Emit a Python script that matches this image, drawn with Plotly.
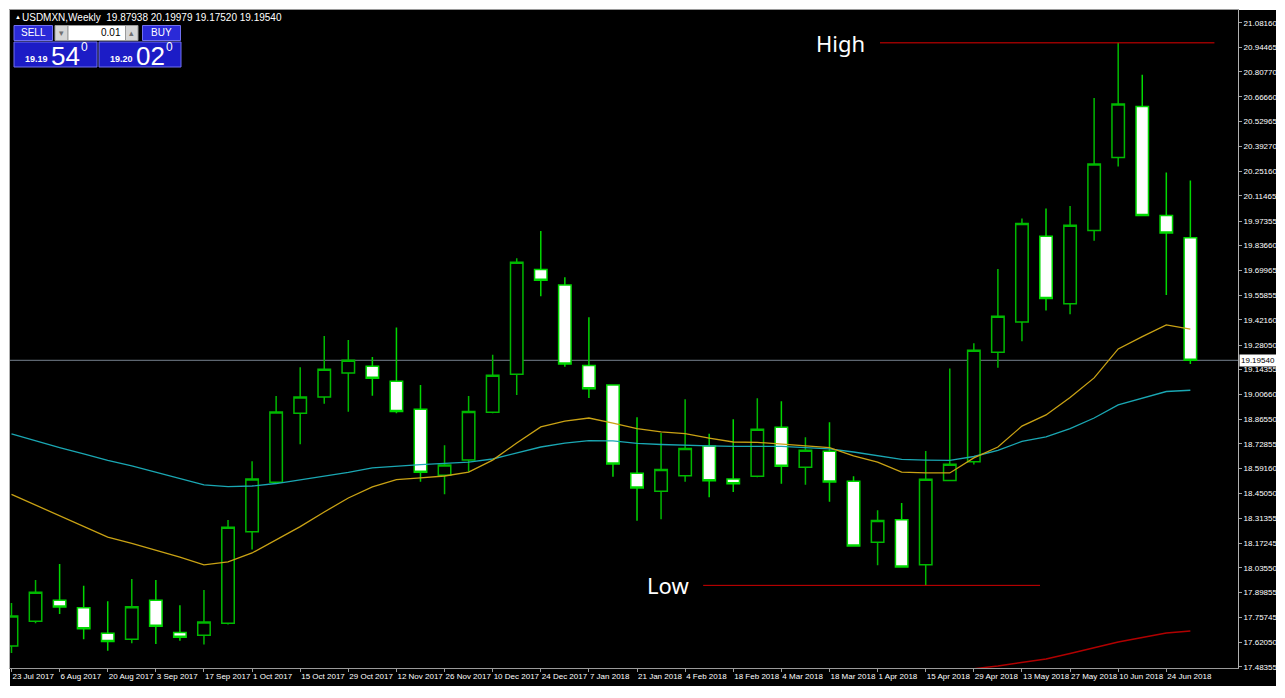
import pandas as pd
import plotly.graph_objects as go

# ---------------- data ----------------
symbol = "USDMXN"
timeframe = "Weekly"
first_week = "2017-07-23"

open_ = [17.599, 17.737, 17.855, 17.813, 17.670, 17.637, 17.855, 17.674, 17.659, 17.726,
         18.238, 18.514, 18.899, 18.990, 19.124, 19.162, 19.078, 18.922, 18.553, 18.638,
         18.905, 19.117, 19.702, 19.616, 19.167, 19.057, 18.564, 18.464, 18.551, 18.717,
         18.532, 18.547, 18.821, 18.598, 18.687, 18.519, 18.179, 18.305, 18.053, 18.524,
         18.629, 19.240, 19.409, 19.888, 19.512, 19.920, 20.328, 20.613, 20.004, 19.87938]
high = [17.839, 17.968, 18.057, 17.936, 17.849, 17.974, 17.968, 17.827, 17.912, 18.303,
        18.631, 18.996, 19.156, 19.331, 19.309, 19.214, 19.378, 19.057, 18.721, 18.996,
        19.227, 19.765, 19.918, 19.659, 19.436, 19.060, 18.877, 18.789, 18.978, 18.785,
        18.866, 18.983, 18.966, 18.765, 18.849, 18.547, 18.357, 18.398, 18.689, 19.149,
        19.290, 19.706, 19.988, 20.043, 20.057, 20.661, 20.969, 20.791, 20.244, 20.19979]
low = [17.560, 17.726, 17.778, 17.637, 17.573, 17.614, 17.610, 17.629, 17.607, 17.720,
       18.139, 18.505, 18.726, 18.953, 18.908, 18.998, 18.899, 18.517, 18.447, 18.573,
       18.900, 19.002, 19.553, 19.160, 18.985, 18.545, 18.299, 18.307, 18.517, 18.430,
       18.460, 18.542, 18.506, 18.500, 18.405, 18.155, 18.050, 18.040, 17.938, 18.520,
       18.613, 19.154, 19.302, 19.473, 19.452, 19.863, 20.278, 20.000, 19.560, 19.17520]
close = [17.767, 17.899, 17.817, 17.696, 17.625, 17.819, 17.709, 17.648, 17.733, 18.262,
         18.532, 18.907, 18.990, 19.145, 19.195, 19.095, 18.910, 18.570, 18.610, 18.910,
         19.112, 19.743, 19.642, 19.175, 19.037, 18.616, 18.482, 18.586, 18.702, 18.523,
         18.506, 18.810, 18.603, 18.693, 18.516, 18.158, 18.301, 18.041, 18.531, 18.615,
         19.252, 19.441, 19.959, 19.541, 19.950, 20.292, 20.627, 20.004, 19.906, 19.19540]

ma_gold = [18.446, 18.387, 18.328, 18.270, 18.208, 18.172, 18.133, 18.096, 18.052, 18.069,
           18.119, 18.191, 18.266, 18.348, 18.426, 18.488, 18.529, 18.538, 18.549, 18.571,
           18.638, 18.733, 18.823, 18.856, 18.873, 18.845, 18.814, 18.795, 18.786, 18.761,
           18.739, 18.737, 18.728, 18.719, 18.708, 18.661, 18.627, 18.571, 18.566, 18.566,
           18.650, 18.711, 18.828, 18.890, 18.988, 19.097, 19.259, 19.328, 19.393, 19.370]
ma_cyan = [18.784, 18.745, 18.708, 18.672, 18.636, 18.605, 18.571, 18.536, 18.499, 18.490,
           18.493, 18.507, 18.527, 18.549, 18.569, 18.594, 18.605, 18.613, 18.619, 18.627,
           18.644, 18.678, 18.711, 18.733, 18.747, 18.745, 18.731, 18.725, 18.719, 18.717,
           18.714, 18.714, 18.714, 18.708, 18.700, 18.683, 18.664, 18.642, 18.638, 18.636,
           18.658, 18.692, 18.742, 18.767, 18.814, 18.873, 18.946, 18.982, 19.021, 19.028]
ma_red_start = 36
ma_red = [17.392, 17.409, 17.432, 17.454, 17.472, 17.488, 17.507, 17.527, 17.557, 17.588,
          17.622, 17.647, 17.672, 17.683]

y_tick_labels = ["21.08160", "20.94465", "20.80770", "20.66660", "20.52965", "20.39270",
                 "20.25160", "20.11465", "19.97355", "19.83660", "19.69965", "19.55855",
                 "19.42160", "19.28050", "19.14355", "19.00660", "18.86550", "18.72855",
                 "18.59160", "18.45050", "18.31355", "18.17245", "18.03550", "17.89855",
                 "17.75745", "17.62050", "17.48355"]
x_tick_labels = ["23 Jul 2017", "6 Aug 2017", "20 Aug 2017", "3 Sep 2017", "17 Sep 2017",
                 "1 Oct 2017", "15 Oct 2017", "29 Oct 2017", "12 Nov 2017", "26 Nov 2017",
                 "10 Dec 2017", "24 Dec 2017", "7 Jan 2018", "21 Jan 2018", "4 Feb 2018",
                 "18 Feb 2018", "4 Mar 2018", "18 Mar 2018", "1 Apr 2018", "15 Apr 2018",
                 "29 Apr 2018", "13 May 2018", "27 May 2018", "10 Jun 2018", "24 Jun 2018"]

bid = 19.19540
ask = 19.20020
lot = "0.01"
high_week = 46
low_week = 38

# ---------------- layout geometry ----------------
# the page body has an 8px margin, so the figure starts at (8, 8) on screen
OFF = 8
W, H = 1285 - OFF, 698 - 2 * OFF
# plot area in screen pixels
SL, SR, ST, SB = 10, 1238, 10, 668


def px(x):
    return (x - SL) / (SR - SL)


def py(y):
    return (SB - y) / (SB - ST)


dates = pd.date_range(first_week, periods=len(close), freq="7D")
week = pd.Timedelta(days=7)


def xpos(i):
    return dates[0] + week * i


GREEN_UP = "#00b800"
GREEN_DN = "#00d800"
FONT = "Liberation Sans Narrow, Liberation Sans, Arial, sans-serif"

fig = go.Figure()

fig.add_trace(go.Scatter(x=dates, y=ma_cyan, mode="lines",
                         line=dict(color="#1aa7b3", width=1.3), hoverinfo="skip"))
fig.add_trace(go.Scatter(x=dates, y=ma_gold, mode="lines",
                         line=dict(color="#c9a214", width=1.3), hoverinfo="skip"))
fig.add_trace(go.Scatter(x=dates[ma_red_start:], y=ma_red, mode="lines",
                         line=dict(color="#b00000", width=1.5), hoverinfo="skip"))

fig.add_trace(go.Candlestick(
    x=dates, open=open_, high=high, low=low, close=close,
    increasing=dict(line=dict(color=GREEN_UP, width=1.5), fillcolor="#000000"),
    decreasing=dict(line=dict(color=GREEN_DN, width=1.5), fillcolor="#ffffff"),
    whiskerwidth=0,
))

shapes = []
# black chart window on white page
shapes.append(dict(type="rect", xref="paper", yref="paper",
                   x0=px(10), x1=px(1276), y0=py(686), y1=py(10),
                   fillcolor="#000000", line=dict(width=0), layer="below"))
# bid line
shapes.append(dict(type="line", xref="paper", yref="y", x0=0, x1=1,
                   y0=close[-1], y1=close[-1],
                   line=dict(color="#75808c", width=1), layer="below"))
# High / Low lines
shapes.append(dict(type="line", xref="x", yref="y",
                   x0=xpos(36.1), x1=xpos(50.0),
                   y0=high[high_week], y1=high[high_week],
                   line=dict(color="#e00000", width=1)))
shapes.append(dict(type="line", xref="x", yref="y",
                   x0=xpos(28.75), x1=xpos(42.75),
                   y0=low[low_week], y1=low[low_week],
                   line=dict(color="#d00000", width=1)))


def prect(x0, x1, y0, y1, fill, line="#7070f0"):
    shapes.append(dict(type="rect", xref="paper", yref="paper",
                       x0=px(x0), x1=px(x1), y0=py(y1), y1=py(y0),
                       fillcolor=fill, line=dict(color=line, width=1), layer="above"))


# one-click trading panel
prect(14, 52.5, 25.5, 40.5, "#2a2ad8")
prect(55, 68, 25.5, 40.5, "#d6d6d6", "#9a9a9a")
prect(68, 125.5, 25.5, 40.5, "#ffffff", "#9a9a9a")
prect(125.5, 138, 25.5, 40.5, "#d6d6d6", "#9a9a9a")
prect(142.5, 180.5, 25.5, 40.5, "#2a2ad8")
prect(14, 97, 42, 67, "#1c1cc6")
prect(99, 181, 42, 67, "#1c1cc6")

ann = []


def txt(x, y, s, size, color="#ffffff", anchor="left", family=FONT, **kw):
    ann.append(dict(xref="paper", yref="paper", x=px(x), y=py(y), text=s,
                    showarrow=False, xanchor=anchor, yanchor="middle",
                    font=dict(size=size, color=color, family=family), **kw))


hdr = "%s,%s  %.5f %.5f %.5f %.5f" % (symbol, timeframe, open_[-1], high[-1], low[-1], close[-1])
txt(13, 17.5, "▲", 6)
txt(20, 17.5, hdr, 10)
txt(33.2, 33, "SELL", 10, anchor="center")
txt(161.5, 33, "BUY", 10, anchor="center")
txt(61.5, 33, "▾", 9, color="#707070", anchor="center")
txt(131.8, 33, "▴", 9, color="#707070", anchor="center")
txt(123, 33, lot, 10, color="#000000", anchor="right")

for s_val, x0 in ((bid, 23), (ask, 108)):
    s = "%.5f" % s_val
    txt(x0, 59, "<b>" + s[:5] + "</b>", 9)
    txt(x0 + 26, 55.5, s[5:7], 26, family="Liberation Sans, Arial, sans-serif")
    txt(x0 + 56, 47, s[7], 12, family="Liberation Sans, Arial, sans-serif")

# High / Low labels
txt(840, 43, "High", 22, anchor="center", family="Noto Sans, Open Sans, sans-serif")
txt(668, 585, "Low", 22, anchor="center", family="Noto Sans, Open Sans, sans-serif")

# current price label on the price scale
ann.append(dict(xref="paper", yref="y", x=1.0, y=close[-1], text="%.5f" % close[-1],
                showarrow=False, xanchor="left", yanchor="middle", xshift=1,
                bgcolor="#ffffff", borderpad=1,
                font=dict(size=8, color="#000000", family=FONT)))

fig.update_layout(
    width=W, height=H,
    margin=dict(l=SL - OFF, r=W - (SR - OFF), t=ST - OFF, b=H - (SB - OFF), autoexpand=False),
    paper_bgcolor="#ffffff",
    plot_bgcolor="#000000",
    showlegend=False,
    boxgap=0.26,
    font=dict(family=FONT, size=10, color="#ffffff"),
    shapes=shapes,
    annotations=ann,
)

fig.update_xaxes(
    type="date",
    range=[xpos(-0.062), xpos(50.98)],
    tickmode="array",
    tickvals=list(dates[::2]),
    ticktext=x_tick_labels,
    tickangle=0,
    ticklabelposition="outside right",
    ticks="outside", ticklen=3, tickcolor="#a0a0a0",
    tickfont=dict(size=8, color="#ffffff", family=FONT),
    showgrid=False, zeroline=False,
    showline=True, linecolor="#9a9a9a", linewidth=1, mirror=True,
    rangeslider=dict(visible=False),
    automargin=False,
    fixedrange=True,
)
fig.update_yaxes(
    side="right",
    range=[17.4763, 21.1525],
    tickmode="array",
    tickvals=[float(v) for v in y_tick_labels],
    ticktext=y_tick_labels,
    ticks="outside", ticklen=3, tickcolor="#a0a0a0",
    tickfont=dict(size=8, color="#ffffff", family=FONT),
    showgrid=False, zeroline=False,
    showline=True, linecolor="#b0b0b0", linewidth=1, mirror=True,
    automargin=False,
    fixedrange=True,
)

fig.write_html("out.html", config={"displayModeBar": False})
